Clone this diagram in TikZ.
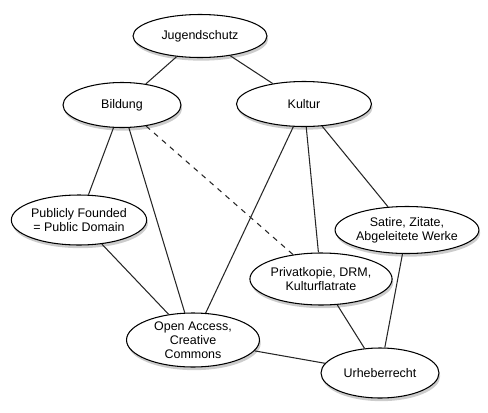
\documentclass[tikz,border=0pt]{standalone}
\usepackage{fontspec}
\setmainfont{Liberation Sans}
\usepackage{tikz}
\usetikzlibrary{shapes.geometric, shadows}

\begin{document}
\begin{tikzpicture}[x=0.02cm, y=-0.02cm, line width=0.6pt,
    topic/.style={ellipse, draw, fill=white, inner sep=0pt, align=center,
      font=\fontsize{7.1}{8.1}\selectfont,
      drop shadow={shadow xshift=0.7pt, shadow yshift=-1.8pt, opacity=0.4}},
    link/.style={draw=black!85}]
      \useasboundingbox (0, 0) rectangle (488, 413);
      \node[topic, minimum width=2.68cm, minimum height=0.86cm] (jugend) at (200, 36) {Jugendschutz};
      \node[topic, minimum width=2.36cm, minimum height=0.9cm] (bildung) at (122, 105) {Bildung};
      \node[topic, minimum width=2.7cm, minimum height=0.9cm] (kultur) at (304, 104) {Kultur};
      \node[topic, minimum width=2.68cm, minimum height=1.0cm] (public) at (79, 220) {Publicly Founded\\= Public Domain};
      \node[topic, minimum width=2.86cm, minimum height=0.94cm] (satire) at (407, 230) {Satire, Zitate,\\Abgeleitete Werke};
      \node[topic, minimum width=2.68cm, minimum height=1.04cm] (privat) at (321, 279) {Privatkopie, DRM,\\Kulturflatrate};
      \node[topic, minimum width=2.66cm, minimum height=1.08cm] (open) at (193, 340) {Open Access,\\Creative\\Commons};
      \node[topic, minimum width=2.36cm, minimum height=1.0cm] (urheber) at (380, 373) {Urheberrecht};
      % connectors
      \draw[link] (jugend) -- (bildung);
      \draw[link] (jugend) -- (kultur);
      \draw[link] (bildung) -- (public);
      \draw[link] (bildung) -- (open);
      \draw[link, dashed] (bildung) -- (privat);
      \draw[link] (kultur) -- (open);
      \draw[link] (kultur) -- (privat);
      \draw[link] (kultur) -- (satire);
      \draw[link] (public) -- (open);
      \draw[link] (privat) -- (urheber);
      \draw[link] (satire) -- (urheber);
      \draw[link] (open) -- (urheber);
    \end{tikzpicture}
\end{document}
